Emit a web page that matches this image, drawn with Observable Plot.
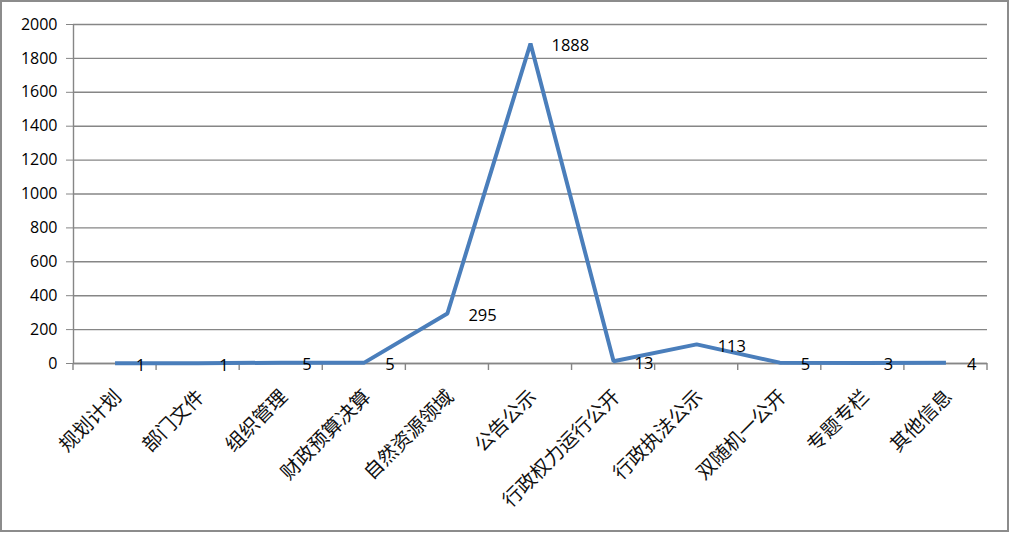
<!DOCTYPE html>
<html>
<head>
<meta charset="utf-8">
<script src="https://cdn.jsdelivr.net/npm/d3@7"></script>
<script src="https://cdn.jsdelivr.net/npm/@observablehq/plot@0.6"></script>
<style>
  html, body { margin: 0; padding: 0; background: #fff; }
  #wrap { position: relative; width: 1010px; height: 533px; }
  #frame { position: absolute; left: 0; top: 0; width: 1009px; height: 532px; box-sizing: border-box; border: 2px solid #8c8c8c; pointer-events: none; }
</style>
</head>
<body>
<div id="wrap"><div id="chart"></div><div id="frame"></div></div>
<script>
const categories = ["规划计划", "部门文件", "组织管理", "财政预算决算", "自然资源领域", "公告公示", "行政权力运行公开", "行政执法公示", "双随机一公开", "专题专栏", "其他信息"];
const values = [1, 1, 5, 5, 295, 1888, 13, 113, 5, 3, 4];
const yTicks = [0, 200, 400, 600, 800, 1000, 1200, 1400, 1600, 1800, 2000];

const data = categories.map((c, i) => ({i, c, v: values[i]}));
const boundaries = d3.range(categories.length + 1).map(k => k - 0.5);

const gray = "#868686";
const chart = Plot.plot({
  width: 1010,
  height: 533,
  marginLeft: 73,
  marginRight: 23,
  marginTop: 24,
  marginBottom: 170,
  style: {fontFamily: "'Open Sans', 'Noto Sans CJK SC', sans-serif", background: "transparent"},
  x: {type: "linear", domain: [-0.5, categories.length - 0.5], axis: null},
  y: {type: "linear", domain: [0, 2000], axis: null},
  marks: [
    Plot.gridY(yTicks, {stroke: gray, strokeOpacity: 1, strokeWidth: 1.4}),
    Plot.axisY(yTicks, {tickSize: 7, tickPadding: 9, stroke: gray, strokeOpacity: 1, fontSize: 16, fill: "#000", tickFormat: d => String(d), label: null}),
    Plot.ruleX([-0.5], {stroke: gray, strokeWidth: 1.4, y1: 0, y2: 2000}),
    Plot.ruleY([0], {stroke: gray, strokeWidth: 1.4}),
    Plot.ruleX(boundaries, {x: d => d, y1: 0, y2: 0, stroke: gray, strokeWidth: 1.4, render: (index, scales, values, dims) => {
      const g = d3.create("svg:g");
      for (const k of index) {
        g.append("line").attr("x1", values.x[k]).attr("x2", values.x[k])
          .attr("y1", scales.y(0)).attr("y2", scales.y(0) + 7)
          .attr("stroke", gray).attr("stroke-width", 1.4);
      }
      return g.node();
    }}),
    Plot.line(data, {x: "i", y: "v", stroke: "#4a7ebb", strokeWidth: 4, strokeLinejoin: "miter", strokeLinecap: "butt"}),
    Plot.text(data, {x: "i", y: "v", text: d => String(d.v), dx: 21, dy: 2, textAnchor: "start", fontSize: 16.5, fill: "#000"}),
    Plot.text(data, {x: "i", y: d => 0, text: "c", rotate: -45, textAnchor: "end", dx: 3, dy: 30, fontSize: 19.5, fill: "#111", fontFamily: "'Noto Sans CJK SC', sans-serif"})
  ]
});
document.getElementById("chart").appendChild(chart);
</script>
</body>
</html>
